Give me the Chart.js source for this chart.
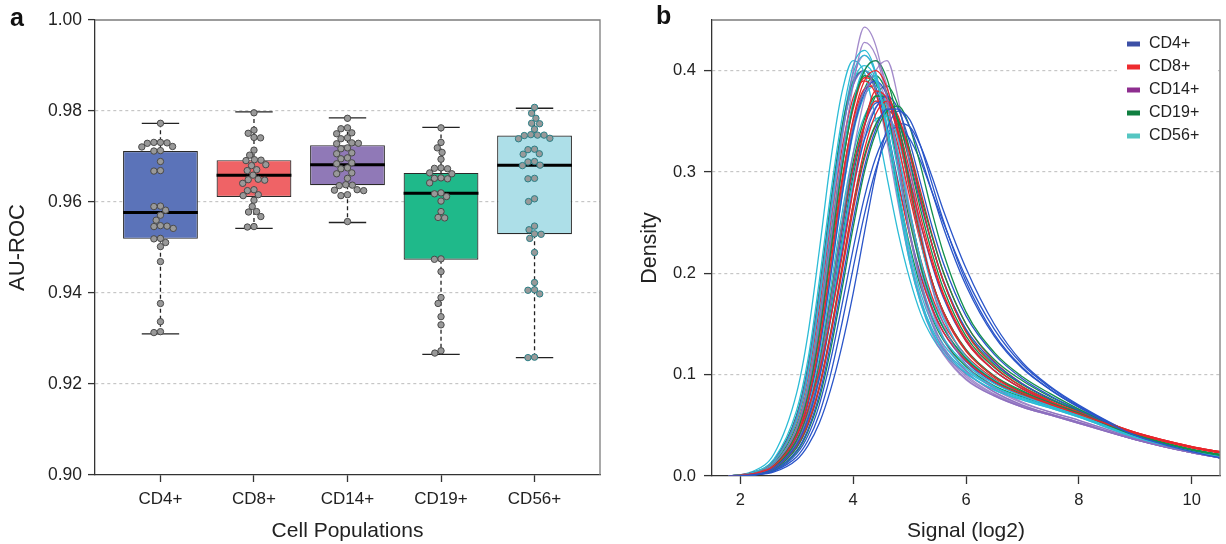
<!DOCTYPE html>
<html>
<head>
<meta charset="utf-8">
<script src="https://cdn.jsdelivr.net/npm/chart.js@4.4.1/dist/chart.umd.min.js"></script>
<style>
  body { margin: 0; background: #fff; width: 1226px; height: 544px; overflow: hidden; position: relative; font-family: 'Liberation Sans', Arial, sans-serif; }
  .panel { position: absolute; top: 0; height: 544px; }
  #pa { left: 0; width: 610px; }
  #pb { left: 610px; width: 616px; }
  .tag { position: absolute; font-weight: bold; font-size: 25px; color: #111; line-height: 1; }
</style>
</head>
<body>
<div class="panel" id="pa"><canvas id="boxChart"></canvas></div>
<div class="panel" id="pb"><canvas id="densityChart"></canvas></div>
<div class="tag" style="left:10px;top:5px">a</div>
<div class="tag" style="left:656px;top:3px">b</div>
<script>
// ---- panel a: AU-ROC per cell population ----
const populations = ['CD4+', 'CD8+', 'CD14+', 'CD19+', 'CD56+'];
const whiskerLow = [0.9310, 0.9542, 0.9555, 0.9265, 0.9258];
const lowerQuartile = [0.9519, 0.9611, 0.9637, 0.9473, 0.9529];
const medians = [0.9577, 0.9659, 0.9682, 0.9619, 0.9681];
const upperQuartile = [0.9712, 0.9692, 0.9725, 0.9664, 0.9746];
const whiskerHigh = [0.9773, 0.9798, 0.9785, 0.9764, 0.9806];

const cd4Auc = [0.9773, 0.9731, 0.9731, 0.9730, 0.9729, 0.9722, 0.9721, 0.9713, 0.9712, 0.9689, 0.9669, 0.9668,
  0.9591, 0.9590, 0.9582, 0.9571, 0.9560, 0.9548, 0.9547, 0.9546, 0.9542, 0.9520, 0.9519, 0.9511, 0.9502,
  0.9469, 0.9377, 0.9337, 0.9315, 0.9313];
const cd8Auc = [0.9796, 0.9758, 0.9751, 0.9742, 0.9741, 0.9714, 0.9703, 0.9693, 0.9692, 0.9691, 0.9682, 0.9680,
  0.9671, 0.9669, 0.9659, 0.9650, 0.9649, 0.9648, 0.9641, 0.9627, 0.9625, 0.9616, 0.9614, 0.9604, 0.9590,
  0.9579, 0.9578, 0.9568, 0.9546, 0.9545];
const cd14Auc = [0.9784, 0.9763, 0.9761, 0.9752, 0.9750, 0.9741, 0.9739, 0.9730, 0.9729, 0.9728, 0.9719, 0.9717,
  0.9708, 0.9706, 0.9697, 0.9695, 0.9686, 0.9684, 0.9675, 0.9673, 0.9664, 0.9662, 0.9652, 0.9638, 0.9637,
  0.9636, 0.9627, 0.9626, 0.9625, 0.9616, 0.9614, 0.9557];
const cd19Auc = [0.9763, 0.9731, 0.9719, 0.9709, 0.9694, 0.9675, 0.9674, 0.9673, 0.9664, 0.9662, 0.9653, 0.9652,
  0.9651, 0.9642, 0.9620, 0.9618, 0.9612, 0.9602, 0.9579, 0.9566, 0.9565, 0.9475, 0.9474, 0.9447, 0.9390,
  0.9377, 0.9348, 0.9330, 0.9273, 0.9268];
const cd56Auc = [0.9808, 0.9795, 0.9784, 0.9773, 0.9772, 0.9760, 0.9748, 0.9747, 0.9747, 0.9746, 0.9740, 0.9739,
  0.9716, 0.9715, 0.9706, 0.9705, 0.9689, 0.9688, 0.9681, 0.9680, 0.9652, 0.9651, 0.9607, 0.9601, 0.9547,
  0.9539, 0.9530, 0.9529, 0.9520, 0.9489, 0.9423, 0.9407, 0.9406, 0.9398, 0.9259, 0.9258];
const aucByPopulation = [cd4Auc, cd8Auc, cd14Auc, cd19Auc, cd56Auc];

const boxColors = ['#5b73b9', '#ef6366', '#9079b7', '#1fb98a', '#addfe8'];
const dotEdges = ['#4a4a4a', '#4a4a4a', '#4a4a4a', '#4a4a4a', '#2b7f86'];

// ---- panel b: density curves of log2 signal ----
const signal = [1.8, 2.2, 2.6, 3.0, 3.2, 3.4, 3.6, 3.8, 4.0, 4.2, 4.4, 4.6, 4.8, 5.0, 5.2, 5.4, 5.6, 6.0, 6.5, 7.0, 7.5, 8.0, 9.0, 10.0, 10.5];

const cd4Density = [
  [0, 0.001, 0.006, 0.025, 0.046, 0.080, 0.130, 0.190, 0.252, 0.305, 0.342, 0.362, 0.362, 0.345, 0.315, 0.280, 0.245, 0.188, 0.138, 0.106, 0.085, 0.068, 0.040, 0.024, 0.018],
  [0, 0.001, 0.004, 0.016, 0.030, 0.052, 0.085, 0.128, 0.180, 0.240, 0.298, 0.342, 0.360, 0.352, 0.325, 0.288, 0.252, 0.192, 0.140, 0.107, 0.085, 0.068, 0.040, 0.024, 0.018],
  [0, 0.001, 0.008, 0.031, 0.056, 0.096, 0.154, 0.220, 0.283, 0.332, 0.363, 0.375, 0.362, 0.330, 0.288, 0.246, 0.210, 0.158, 0.120, 0.096, 0.079, 0.065, 0.040, 0.024, 0.019],
  [0, 0.002, 0.010, 0.039, 0.071, 0.124, 0.196, 0.275, 0.340, 0.378, 0.390, 0.376, 0.340, 0.294, 0.248, 0.208, 0.176, 0.133, 0.104, 0.086, 0.073, 0.062, 0.040, 0.024, 0.019],
  [0, 0.001, 0.005, 0.022, 0.040, 0.070, 0.114, 0.168, 0.224, 0.275, 0.314, 0.338, 0.344, 0.333, 0.310, 0.280, 0.250, 0.196, 0.145, 0.110, 0.087, 0.069, 0.041, 0.024, 0.018],
  [0, 0.003, 0.015, 0.058, 0.104, 0.176, 0.262, 0.338, 0.386, 0.400, 0.384, 0.343, 0.290, 0.240, 0.198, 0.166, 0.142, 0.113, 0.092, 0.079, 0.069, 0.060, 0.039, 0.024, 0.019],
  [0, 0.001, 0.009, 0.034, 0.062, 0.107, 0.170, 0.240, 0.302, 0.346, 0.368, 0.370, 0.350, 0.312, 0.268, 0.228, 0.193, 0.145, 0.112, 0.091, 0.076, 0.064, 0.040, 0.024, 0.019],
  [0, 0.001, 0.005, 0.019, 0.035, 0.061, 0.100, 0.150, 0.205, 0.258, 0.302, 0.333, 0.348, 0.345, 0.325, 0.295, 0.262, 0.205, 0.150, 0.112, 0.088, 0.070, 0.041, 0.024, 0.018]
];
const cd8Density = [
  [0, 0.002, 0.010, 0.040, 0.074, 0.130, 0.207, 0.288, 0.352, 0.390, 0.400, 0.383, 0.340, 0.285, 0.233, 0.192, 0.162, 0.124, 0.098, 0.082, 0.071, 0.061, 0.042, 0.028, 0.023],
  [0, 0.002, 0.011, 0.040, 0.066, 0.103, 0.155, 0.215, 0.282, 0.345, 0.380, 0.372, 0.337, 0.292, 0.248, 0.210, 0.178, 0.133, 0.104, 0.086, 0.073, 0.062, 0.042, 0.028, 0.024],
  [0, 0.001, 0.008, 0.030, 0.052, 0.088, 0.140, 0.203, 0.268, 0.322, 0.357, 0.370, 0.355, 0.318, 0.272, 0.228, 0.192, 0.142, 0.108, 0.088, 0.074, 0.063, 0.043, 0.029, 0.024],
  [0, 0.003, 0.014, 0.054, 0.097, 0.165, 0.248, 0.322, 0.373, 0.390, 0.377, 0.338, 0.288, 0.238, 0.196, 0.165, 0.142, 0.114, 0.093, 0.080, 0.070, 0.061, 0.042, 0.028, 0.023],
  [0, 0.002, 0.009, 0.036, 0.064, 0.110, 0.175, 0.245, 0.305, 0.347, 0.370, 0.368, 0.345, 0.302, 0.255, 0.214, 0.180, 0.135, 0.104, 0.086, 0.073, 0.062, 0.043, 0.029, 0.024],
  [0, 0.002, 0.012, 0.047, 0.086, 0.148, 0.228, 0.305, 0.362, 0.393, 0.388, 0.360, 0.312, 0.260, 0.213, 0.177, 0.151, 0.119, 0.096, 0.081, 0.071, 0.061, 0.042, 0.028, 0.023],
  [0, 0.002, 0.011, 0.043, 0.078, 0.137, 0.215, 0.292, 0.350, 0.382, 0.385, 0.365, 0.325, 0.276, 0.229, 0.190, 0.160, 0.123, 0.098, 0.082, 0.071, 0.062, 0.042, 0.028, 0.023],
  [0, 0.001, 0.007, 0.028, 0.050, 0.086, 0.138, 0.200, 0.262, 0.313, 0.346, 0.360, 0.352, 0.322, 0.280, 0.238, 0.201, 0.150, 0.113, 0.091, 0.076, 0.064, 0.043, 0.029, 0.024]
];
const cd14Density = [
  [0, 0.002, 0.012, 0.048, 0.090, 0.158, 0.245, 0.330, 0.400, 0.443, 0.425, 0.375, 0.308, 0.240, 0.188, 0.150, 0.125, 0.098, 0.080, 0.068, 0.060, 0.052, 0.036, 0.023, 0.018],
  [0, 0.002, 0.011, 0.044, 0.083, 0.146, 0.230, 0.315, 0.385, 0.428, 0.415, 0.372, 0.308, 0.243, 0.192, 0.154, 0.128, 0.100, 0.081, 0.069, 0.061, 0.053, 0.036, 0.023, 0.018],
  [0, 0.001, 0.008, 0.032, 0.060, 0.106, 0.172, 0.248, 0.318, 0.372, 0.400, 0.410, 0.372, 0.308, 0.240, 0.186, 0.150, 0.110, 0.086, 0.072, 0.063, 0.055, 0.037, 0.024, 0.019],
  [0, 0.003, 0.015, 0.058, 0.105, 0.178, 0.262, 0.338, 0.385, 0.400, 0.380, 0.330, 0.268, 0.212, 0.170, 0.140, 0.120, 0.095, 0.079, 0.068, 0.060, 0.052, 0.036, 0.023, 0.018],
  [0, 0.002, 0.010, 0.040, 0.074, 0.130, 0.205, 0.283, 0.345, 0.381, 0.390, 0.368, 0.318, 0.258, 0.204, 0.163, 0.135, 0.103, 0.083, 0.070, 0.061, 0.053, 0.036, 0.023, 0.018],
  [0, 0.001, 0.007, 0.029, 0.054, 0.096, 0.157, 0.226, 0.290, 0.338, 0.364, 0.370, 0.345, 0.295, 0.240, 0.192, 0.158, 0.115, 0.088, 0.073, 0.063, 0.055, 0.037, 0.024, 0.019],
  [0, 0.002, 0.011, 0.043, 0.080, 0.140, 0.220, 0.303, 0.365, 0.400, 0.410, 0.385, 0.330, 0.265, 0.208, 0.166, 0.137, 0.104, 0.083, 0.070, 0.061, 0.053, 0.036, 0.023, 0.018],
  [0, 0.003, 0.014, 0.055, 0.100, 0.172, 0.258, 0.338, 0.392, 0.415, 0.398, 0.347, 0.280, 0.220, 0.175, 0.143, 0.122, 0.096, 0.079, 0.068, 0.060, 0.052, 0.036, 0.023, 0.018]
];
const cd19Density = [
  [0, 0.002, 0.011, 0.043, 0.080, 0.140, 0.220, 0.302, 0.365, 0.400, 0.410, 0.392, 0.348, 0.290, 0.235, 0.192, 0.162, 0.124, 0.098, 0.083, 0.072, 0.062, 0.040, 0.026, 0.021],
  [0, 0.001, 0.006, 0.024, 0.044, 0.076, 0.124, 0.183, 0.245, 0.300, 0.338, 0.360, 0.365, 0.345, 0.305, 0.260, 0.220, 0.162, 0.122, 0.098, 0.081, 0.066, 0.041, 0.025, 0.020],
  [0, 0.002, 0.009, 0.035, 0.063, 0.110, 0.176, 0.248, 0.310, 0.352, 0.375, 0.374, 0.352, 0.310, 0.262, 0.220, 0.185, 0.138, 0.107, 0.088, 0.075, 0.064, 0.041, 0.026, 0.021],
  [0, 0.002, 0.013, 0.050, 0.090, 0.155, 0.236, 0.312, 0.367, 0.395, 0.388, 0.357, 0.306, 0.252, 0.206, 0.171, 0.146, 0.116, 0.094, 0.081, 0.071, 0.061, 0.040, 0.026, 0.021],
  [0, 0.001, 0.007, 0.028, 0.051, 0.088, 0.142, 0.205, 0.267, 0.316, 0.347, 0.360, 0.350, 0.318, 0.276, 0.236, 0.201, 0.150, 0.115, 0.094, 0.078, 0.065, 0.041, 0.026, 0.021],
  [0, 0.003, 0.016, 0.060, 0.108, 0.182, 0.268, 0.343, 0.389, 0.400, 0.380, 0.335, 0.280, 0.228, 0.186, 0.156, 0.134, 0.108, 0.089, 0.078, 0.069, 0.060, 0.040, 0.026, 0.021],
  [0, 0.001, 0.008, 0.032, 0.058, 0.100, 0.162, 0.232, 0.296, 0.345, 0.375, 0.385, 0.365, 0.322, 0.272, 0.228, 0.192, 0.143, 0.110, 0.090, 0.076, 0.064, 0.041, 0.026, 0.021],
  [0, 0.002, 0.010, 0.040, 0.073, 0.128, 0.203, 0.282, 0.344, 0.382, 0.395, 0.378, 0.336, 0.283, 0.232, 0.192, 0.162, 0.125, 0.099, 0.084, 0.072, 0.062, 0.040, 0.026, 0.021]
];
const cd56Density = [
  [0, 0.003, 0.017, 0.065, 0.115, 0.192, 0.278, 0.352, 0.405, 0.420, 0.398, 0.340, 0.272, 0.212, 0.170, 0.142, 0.124, 0.102, 0.085, 0.075, 0.067, 0.058, 0.038, 0.024, 0.019],
  [0, 0.002, 0.014, 0.055, 0.100, 0.172, 0.258, 0.335, 0.388, 0.405, 0.392, 0.345, 0.283, 0.225, 0.180, 0.150, 0.130, 0.106, 0.088, 0.077, 0.068, 0.059, 0.039, 0.025, 0.020],
  [0, 0.002, 0.012, 0.048, 0.088, 0.152, 0.232, 0.310, 0.368, 0.400, 0.390, 0.355, 0.300, 0.240, 0.192, 0.158, 0.136, 0.110, 0.091, 0.079, 0.069, 0.060, 0.039, 0.025, 0.020],
  [0, 0.002, 0.010, 0.040, 0.072, 0.125, 0.198, 0.275, 0.338, 0.375, 0.385, 0.365, 0.318, 0.262, 0.212, 0.173, 0.146, 0.115, 0.094, 0.080, 0.070, 0.060, 0.039, 0.025, 0.020],
  [0, 0.001, 0.007, 0.030, 0.055, 0.097, 0.158, 0.228, 0.290, 0.332, 0.352, 0.355, 0.333, 0.285, 0.230, 0.186, 0.155, 0.118, 0.095, 0.081, 0.071, 0.061, 0.040, 0.026, 0.021],
  [0, 0.004, 0.022, 0.082, 0.140, 0.222, 0.310, 0.378, 0.410, 0.398, 0.352, 0.295, 0.240, 0.195, 0.160, 0.137, 0.121, 0.101, 0.085, 0.075, 0.067, 0.058, 0.038, 0.024, 0.019],
  [0, 0.003, 0.016, 0.060, 0.108, 0.182, 0.268, 0.343, 0.397, 0.415, 0.396, 0.342, 0.276, 0.216, 0.173, 0.145, 0.126, 0.104, 0.087, 0.076, 0.068, 0.059, 0.039, 0.025, 0.020],
  [0, 0.002, 0.009, 0.036, 0.066, 0.116, 0.185, 0.258, 0.318, 0.355, 0.370, 0.355, 0.315, 0.262, 0.212, 0.174, 0.147, 0.116, 0.094, 0.080, 0.070, 0.060, 0.039, 0.025, 0.020]
];
const densityByPopulation = [cd4Density, cd8Density, cd14Density, cd19Density, cd56Density];
const curveColors = ['#2a55c9', '#e8262c', 'rgba(140,110,190,0.8)', '#12904c', '#2cbcd6'];
const legendColors = ['#3c50a6', '#ee2b2f', '#8e2e8f', '#0f7f40', '#55c6c2'];

Chart.defaults.font.family = "'Liberation Sans', Arial, sans-serif";
Chart.defaults.color = '#222';

// beeswarm: spread points sideways so the dots don't overlap
const PX_PER_UNIT_Y = 4550, PX_PER_CAT = 93.5, DOT = 6.6;
function swarm(values) {
  const placed = [];
  const out = new Array(values.length);
  const order = values.map((v, i) => i).sort((a, b) => values[b] - values[a]);
  for (const i of order) {
    const y = values[i] * PX_PER_UNIT_Y;
    const near = placed.filter(p => Math.abs(p.y - y) < DOT);
    const cands = [0];
    near.forEach(p => {
      const w = Math.sqrt(DOT * DOT - (p.y - y) ** 2);
      cands.push(p.x - w, p.x + w);
    });
    cands.sort((a, b) => Math.abs(a) - Math.abs(b) || a - b);
    const x = cands.find(c => near.every(p => Math.hypot(p.x - c, p.y - y) >= DOT - 0.01));
    placed.push({ x, y });
    out[i] = x / PX_PER_CAT;
  }
  return out;
}

const dots = [], dotBorders = [];
aucByPopulation.forEach((vals, g) => {
  const offs = swarm(vals);
  vals.forEach((v, k) => { dots.push({ x: g + 1 + offs[k], y: v }); dotBorders.push(dotEdges[g]); });
});

const gridColor = '#c6c6c6';

const boxParts = {
  id: 'boxParts',
  beforeDatasetsDraw(chart) {
    const { ctx, scales: { x, y } } = chart;
    ctx.save();
    ctx.strokeStyle = '#222';
    ctx.lineWidth = 1.3;
    populations.forEach((p, i) => {
      const cx = x.getPixelForValue(i + 1);
      ctx.setLineDash([4, 3]);
      ctx.beginPath();
      ctx.moveTo(cx, y.getPixelForValue(whiskerHigh[i]));
      ctx.lineTo(cx, y.getPixelForValue(upperQuartile[i]));
      ctx.moveTo(cx, y.getPixelForValue(lowerQuartile[i]));
      ctx.lineTo(cx, y.getPixelForValue(whiskerLow[i]));
      ctx.stroke();
      ctx.setLineDash([]);
      ctx.beginPath();
      [whiskerHigh[i], whiskerLow[i]].forEach(v => {
        const py = y.getPixelForValue(v);
        ctx.moveTo(x.getPixelForValue(i + 0.8), py);
        ctx.lineTo(x.getPixelForValue(i + 1.2), py);
      });
      ctx.stroke();
    });
    ctx.restore();
  },
  afterDatasetDraw(chart, args) {
    if (args.index !== 1) return;
    const { ctx, scales: { x, y } } = chart;
    ctx.save();
    ctx.strokeStyle = '#000';
    ctx.lineWidth = 3;
    medians.forEach((m, i) => {
      const py = y.getPixelForValue(m);
      ctx.beginPath();
      ctx.moveTo(x.getPixelForValue(i + 0.6), py);
      ctx.lineTo(x.getPixelForValue(i + 1.4), py);
      ctx.stroke();
    });
    ctx.restore();
  }
};

const frame = {
  id: 'frame',
  afterDraw(chart) {
    const { ctx, chartArea: a } = chart;
    ctx.save();
    ctx.strokeStyle = '#7c7c7c';
    ctx.lineWidth = 1.3;
    ctx.beginPath();
    ctx.moveTo(a.left, a.top);
    ctx.lineTo(a.right, a.top);
    ctx.lineTo(a.right, a.bottom);
    ctx.stroke();
    ctx.restore();
  }
};

new Chart(document.getElementById('boxChart'), {
  type: 'scatter',
  data: {
    datasets: [
      {
        type: 'scatter', order: 0, data: dots,
        pointRadius: 3.2, pointBorderWidth: 1,
        pointBackgroundColor: '#999999', pointBorderColor: dotBorders
      },
      {
        type: 'bar', order: 1,
        data: populations.map((p, i) => ({ x: i + 1, y: [lowerQuartile[i], upperQuartile[i]] })),
        backgroundColor: boxColors, borderColor: '#2a2a2a', borderWidth: 1.2, borderSkipped: false,
        categoryPercentage: 0.8, barPercentage: 1
      }
    ]
  },
  options: {
    responsive: true, maintainAspectRatio: false, animation: false, events: [],
    layout: { padding: { top: 20, right: 10, left: 0, bottom: 0 } },
    plugins: { legend: { display: false }, tooltip: { enabled: false } },
    scales: {
      x: {
        type: 'linear', min: 0.3, max: 5.7, offset: false,
        afterFit: s => { s.height = 69; },
        ticks: { stepSize: 1, includeBounds: false, padding: 7, color: '#222', font: { size: 17 },
          callback: v => populations[Math.round(v) - 1] || '' },
        grid: { offset: false, drawOnChartArea: false, tickLength: 7, tickColor: '#333', tickWidth: 1.3 },
        border: { color: '#333', width: 1.3 },
        title: { display: true, text: 'Cell Populations', color: '#222', font: { size: 21 }, padding: { top: 0, bottom: 0 } }
      },
      y: {
        min: 0.9, max: 1.0, beginAtZero: false,
        afterFit: s => { s.width = 95; },
        ticks: { stepSize: 0.02, includeBounds: false, padding: 6, color: '#222', font: { size: 17.5 },
          callback: v => Number(v).toFixed(2) },
        grid: { color: c => (c.tick && c.tick.value > 0.91 && c.tick.value < 0.99) ? gridColor : 'rgba(0,0,0,0)',
          lineWidth: 1.2, tickLength: 7, tickColor: '#333', tickWidth: 1.3 },
        border: { color: '#333', width: 1.3, dash: [3, 3] },
        title: { display: true, text: 'AU-ROC', color: '#222', font: { size: 22 }, padding: { top: 5, bottom: 0 } }
      }
    }
  },
  plugins: [boxParts, frame]
});

// density panel: interleave populations so no colour sits entirely on top
const densitySets = [];
for (let k = 0; k < 8; k++) {
  densityByPopulation.forEach((curves, g) => {
    densitySets.push({
      data: signal.map((s, j) => ({ x: s, y: curves[k][j] })),
      showLine: true, pointRadius: 0, borderWidth: 1.3,
      borderColor: curveColors[g], cubicInterpolationMode: 'monotone', fill: false
    });
  });
}

const densityLegend = {
  id: 'densityLegend',
  beforeDatasetsDraw(chart) {
    const { ctx, chartArea: a } = chart;
    ctx.save();
    ctx.fillStyle = '#fff';
    ctx.fillRect(a.right - 103, a.top + 2, 101, 128);
    ctx.restore();
  },
  afterDraw(chart) {
    const { ctx, chartArea: a } = chart;
    ctx.save();
    ctx.font = "16px 'Liberation Sans', Arial, sans-serif";
    ctx.textBaseline = 'middle';
    populations.forEach((p, i) => {
      const cy = a.top + 24 + i * 23;
      ctx.fillStyle = legendColors[i];
      ctx.fillRect(a.right - 93, cy - 2.5, 13, 5);
      ctx.fillStyle = '#222';
      ctx.fillText(p, a.right - 71, cy);
    });
    ctx.restore();
  }
};

new Chart(document.getElementById('densityChart'), {
  type: 'scatter',
  data: { datasets: densitySets },
  options: {
    responsive: true, maintainAspectRatio: false, animation: false, events: [],
    layout: { padding: { top: 20, right: 6, left: 0, bottom: 0 } },
    plugins: { legend: { display: false }, tooltip: { enabled: false } },
    scales: {
      x: {
        type: 'linear', min: 1.5, max: 10.5,
        afterFit: s => { s.height = 68; },
        ticks: { stepSize: 2, includeBounds: false, padding: 7, color: '#222', font: { size: 16.5 } },
        grid: { drawOnChartArea: false, tickLength: 8, tickColor: '#333', tickWidth: 1.3 },
        border: { color: '#333', width: 1.3 },
        title: { display: true, text: 'Signal (log2)', color: '#222', font: { size: 21 }, padding: { top: 0, bottom: 0 } }
      },
      y: {
        min: 0, max: 0.45,
        afterFit: s => { s.width = 102; },
        ticks: { stepSize: 0.1, includeBounds: false, padding: 8, color: '#222', font: { size: 16.5 },
          callback: v => Number(v).toFixed(1) },
        grid: { color: c => (c.tick && c.tick.value > 0.05) ? gridColor : 'rgba(0,0,0,0)',
          lineWidth: 1.2, tickLength: 8, tickColor: '#333', tickWidth: 1.3 },
        border: { color: '#333', width: 1.3, dash: [3, 3] },
        title: { display: true, text: 'Density', color: '#222', font: { size: 21.5 }, padding: { top: 27, bottom: 0 } }
      }
    }
  },
  plugins: [densityLegend, frame]
});
</script>
</body>
</html>
